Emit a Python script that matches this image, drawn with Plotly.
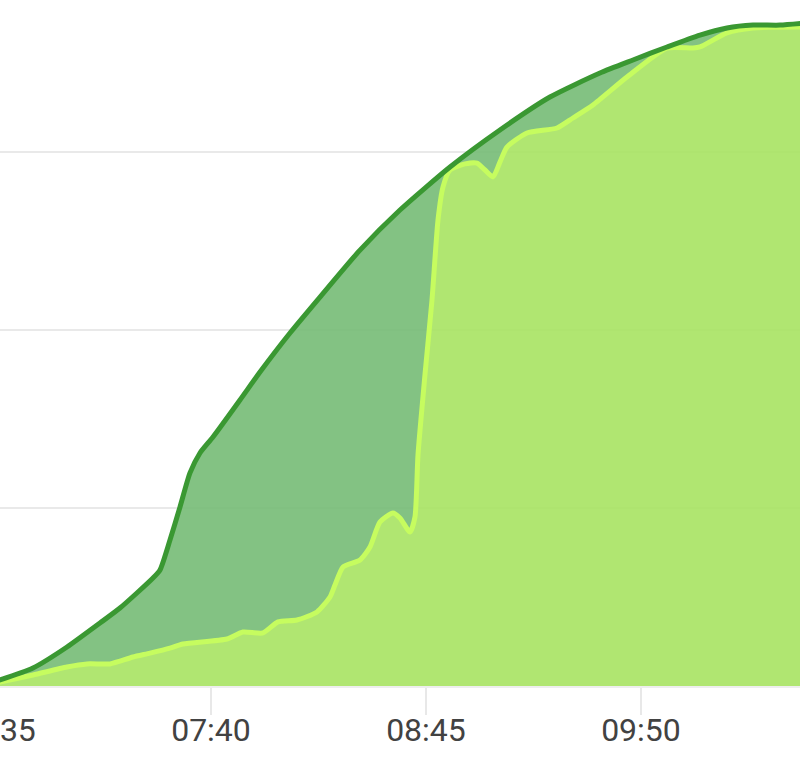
import plotly.graph_objects as go

DAY = "2024-01-01 "

# Cumulative target / reference curve (dark green)
dark_time = ["06:30:00", "06:36:13", "06:46:11", "06:56:28", "07:06:26", "07:12:29", "07:22:28",
             "07:24:35", "07:27:36", "07:30:38", "07:33:39", "07:36:40", "07:40:36", "07:48:46",
             "07:54:49", "08:03:53", "08:12:57", "08:25:03", "08:37:08", "08:52:16", "09:07:22",
             "09:22:29", "09:37:36", "09:47:35", "09:57:52", "10:07:50", "10:16:00", "10:23:52",
             "10:32:02", "10:39:53"]
dark_value = [0, 34, 101, 219, 354, 438, 607,
              652, 820, 1006, 1197, 1309, 1399, 1607,
              1764, 1983, 2185, 2449, 2674, 2916, 3124,
              3309, 3444, 3517, 3590, 3657, 3697, 3713,
              3713, 3725]

# Cumulative actual curve (light green)
light_time = ["06:30:00", "06:36:13", "06:46:11", "06:56:28", "07:02:31", "07:09:28", "07:12:29",
              "07:16:25", "07:21:34", "07:27:36", "07:31:32", "07:44:50", "07:49:40", "07:55:43",
              "08:00:15", "08:06:00", "08:12:03", "08:15:59", "08:17:29", "08:19:55", "08:25:03",
              "08:28:04", "08:31:05", "08:35:01", "08:37:08", "08:40:10", "08:41:40", "08:42:35",
              "08:44:41", "08:46:49", "08:48:38", "08:50:08", "08:52:16", "08:56:47", "09:00:25",
              "09:02:50", "09:05:16", "09:07:22", "09:09:29", "09:15:32", "09:24:37", "09:29:26",
              "09:35:29", "09:45:46", "09:57:52", "10:05:43", "10:07:50", "10:16:00", "10:23:52",
              "10:39:53"]
light_value = [0, 22, 62, 107, 124, 124, 140,
               163, 185, 213, 236, 264, 303, 298,
               360, 371, 416, 500, 567, 669, 708,
               781, 921, 972, 944, 865, 949, 1298,
               1747, 2169, 2618, 2803, 2899, 2933, 2938,
               2899, 2860, 2944, 3028, 3107, 3135, 3191,
               3264, 3421, 3584, 3584, 3590, 3669, 3697,
               3702]

tick_labels = ["06:35", "07:40", "08:45", "09:50"]
x_start, x_end = "06:35:00", "10:38:41"
y_grid = [1000, 2000, 3000]
y_top = 3854

fig = go.Figure()
fig.add_trace(go.Scatter(
    x=[DAY + t for t in light_time], y=light_value,
    mode="lines", fill="tozeroy",
    fillcolor="rgba(167,227,98,0.9)",
    line=dict(color="#c6fc5f", width=5, shape="spline", smoothing=0.6),
    showlegend=False, hoverinfo="skip",
))
fig.add_trace(go.Scatter(
    x=[DAY + t for t in dark_time], y=dark_value,
    mode="lines", fill="tonexty",
    fillcolor="rgba(117,187,117,0.9)",
    line=dict(color="#3a9832", width=5, shape="spline", smoothing=0.6),
    showlegend=False, hoverinfo="skip",
))

fig.update_layout(
    width=806, height=776,
    margin=dict(l=0, r=0, t=0, b=90, pad=0),
    paper_bgcolor="white", plot_bgcolor="white",
    font=dict(family="Roboto", color="#444444"),
    xaxis=dict(
        type="date",
        range=[DAY + x_start, DAY + x_end],
        tickvals=[DAY + t + ":00" for t in tick_labels],
        ticktext=tick_labels,
        ticks="outside", ticklen=27, tickwidth=2, tickcolor="#e8e8e8",
        tickfont=dict(size=32, color="#424242", family="Roboto"),
        ticklabeloverflow="allow",
        ticklabelstandoff=-12,
        showgrid=False, zeroline=False,
        showline=True, linecolor="#eeeeee", linewidth=2,
        automargin=False, fixedrange=True,
    ),
    yaxis=dict(
        range=[0, y_top],
        tickvals=y_grid,
        showticklabels=False,
        showgrid=True, gridcolor="#e9e9e9", gridwidth=2,
        zeroline=False, showline=False, ticks="",
        automargin=False, fixedrange=True,
    ),
)

post = ("document.body.style.margin='0';document.body.style.overflow='hidden';"
        "var d=document.getElementById('{plot_id}');d.style.marginLeft='-4px';")
fig.write_html("out.html", post_script=post, config={"displayModeBar": False})
